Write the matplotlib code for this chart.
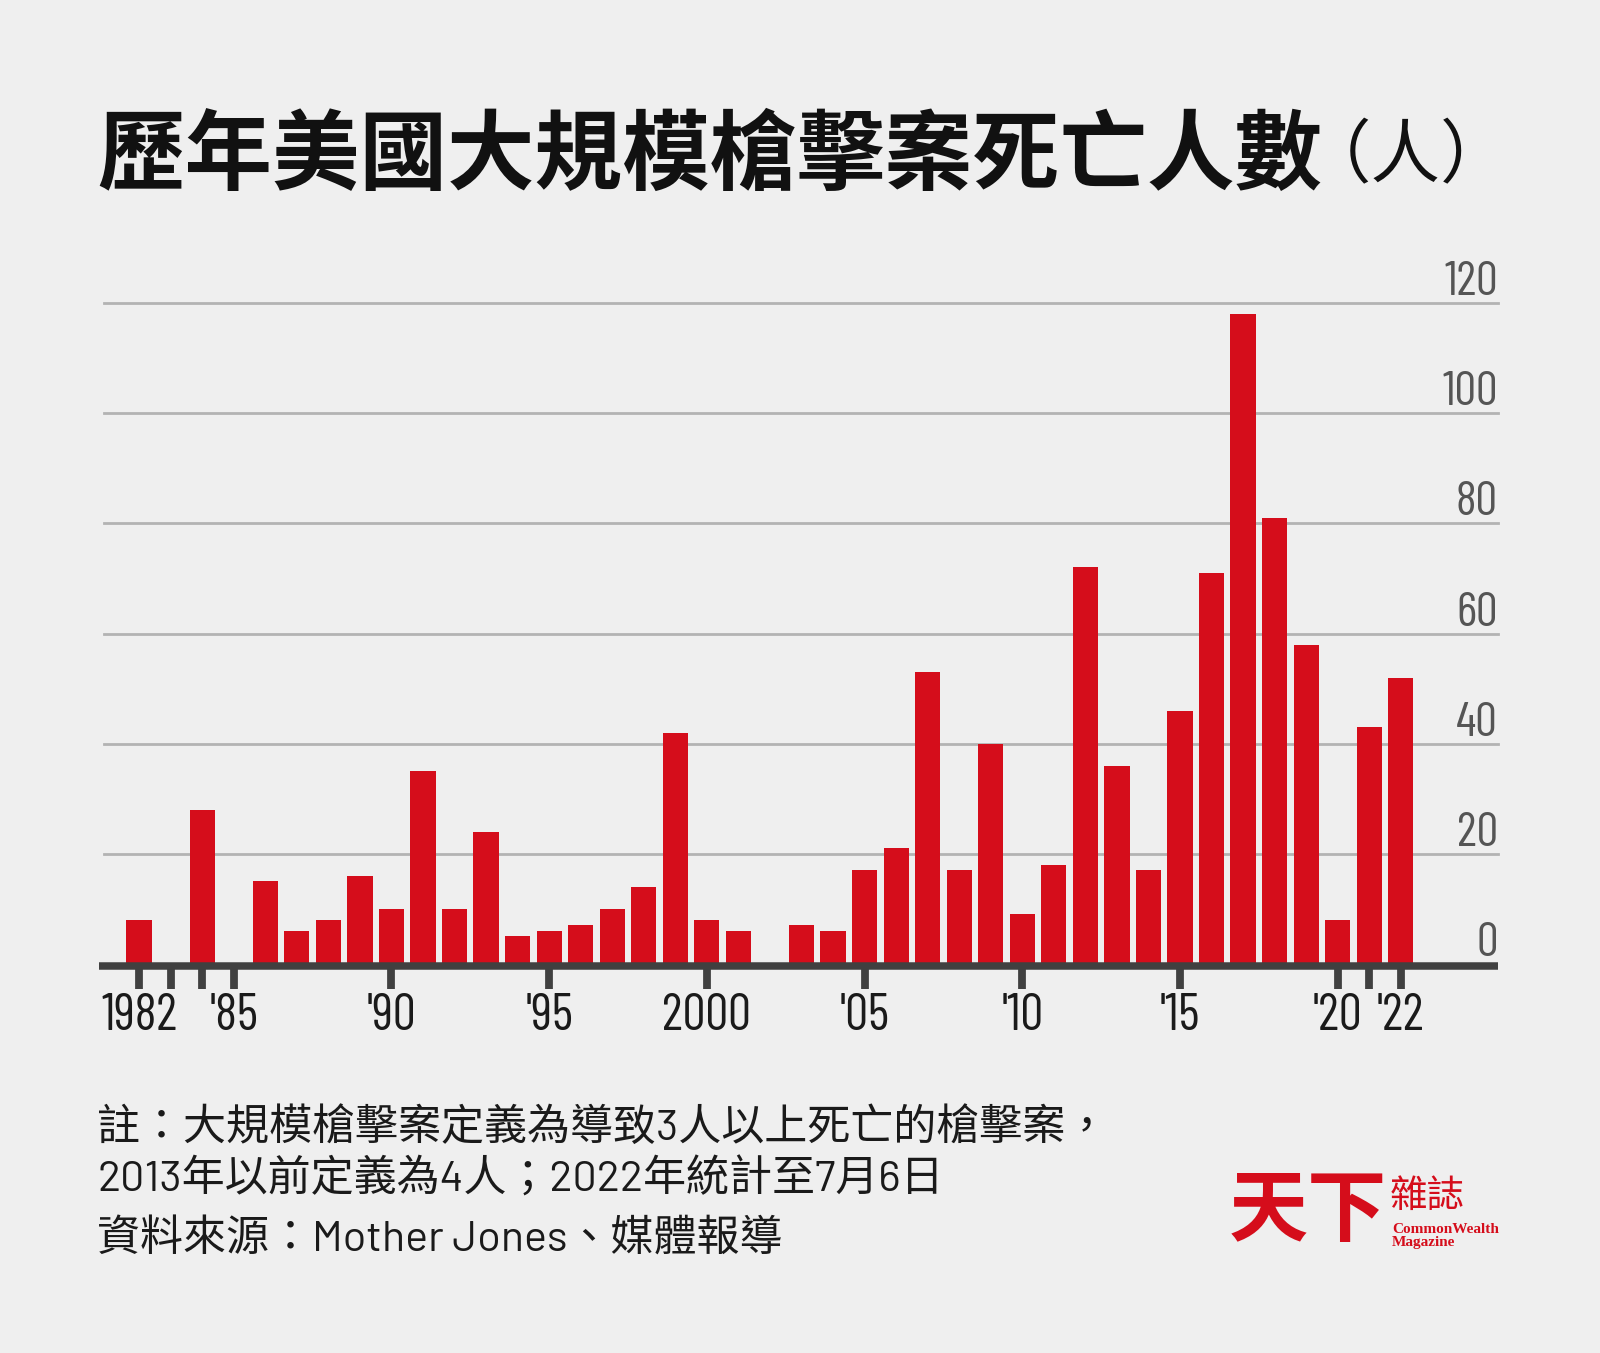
import matplotlib
matplotlib.use('Agg')
import matplotlib.pyplot as plt
from matplotlib import font_manager as fm
import matplotlib.transforms as mtransforms

# ---------------- data ----------------
years = list(range(1982, 2023))
deaths = [8, 0, 28, 0, 15, 6, 8, 16, 10, 35,
          10, 24, 5, 6, 7, 10, 14, 42, 8, 6,
          0, 7, 6, 17, 21, 53, 17, 40, 9, 18,
          72, 36, 17, 46, 71, 118, 81, 58, 8, 43,
          52]
tick_years = [1982, 1983, 1984, 1985, 1990, 1995, 2000, 2005, 2010, 2015, 2020, 2021, 2022]
tick_labels = ['1982', '', '', "'85", "'90", "'95", '2000', "'05", "'10", "'15", "'20", '', "'22"]
y_ticks = [0, 20, 40, 60, 80, 100, 120]
y_labels = ['0', '20', '40', '60', '80', '100', '120']
title = '歷年美國大規模槍擊案死亡人數'
title_unit = '（人）'
note_lines = ['註：大規模槍擊案定義為導致3人以上死亡的槍擊案，',
              '2013年以前定義為4人；2022年統計至7月6日',
              '資料來源：Mother Jones、媒體報導']
logo_main = '天下'
logo_sub = '雜誌'
logo_en1 = 'CommonWealth'
logo_en2 = 'Magazine'

# ---------------- fonts ----------------
ttf = fm.fontManager.ttflist
names = {f.name for f in ttf}
if 'Barlow Condensed' in names:
    NARROW, NSTRETCH = 'Barlow Condensed', 'condensed'
elif 'Liberation Sans Narrow' in names:
    NARROW, NSTRETCH = 'Liberation Sans Narrow', 'normal'
else:
    NARROW, NSTRETCH = 'Roboto', 'normal'
if 'Barlow' in names:
    LATIN = 'Barlow'
else:
    LATIN = 'Roboto'
CJK = 'Noto Sans CJK TC'
SERIF = 'Liberation Serif' if 'Liberation Serif' in names else 'DejaVu Serif'

# ---------------- figure ----------------
W, H = 1600, 1353
BG = '#efefef'
RED = '#d50d1b'
fig = plt.figure(figsize=(W / 100, H / 100), dpi=100)
fig.patch.set_facecolor(BG)


def fx(px):
    return px / W


def fy(py):
    return 1 - py / H


# axes geometry (pixels)
ax_left, ax_right = 104, 1498
y0_px, y120_px = 964, 303
x1982_px, x2022_px = 139.1, 1400.8
ppy = (x2022_px - x1982_px) / 40.0
xmin = 1982 - (x1982_px - ax_left) / ppy
xmax = 2022 + (ax_right - x2022_px) / ppy
upp = 120.0 / (y0_px - y120_px)  # data units per pixel

ax = fig.add_axes([fx(ax_left), fy(y0_px), (ax_right - ax_left) / W, (y0_px - y120_px) / H])
ax.set_facecolor('none')
ax.set_xlim(xmin, xmax)
ax.set_ylim(0, 120)
for s in ax.spines.values():
    s.set_visible(False)

# gridlines
for v in y_ticks[1:]:
    ax.axhline(v, color='#b3b3b3', lw=2.0, zorder=0, clip_on=False)

# bars
ax.bar(years, deaths, width=0.8, color=RED, zorder=2)

# baseline
x_base_left = 1982 - (x1982_px - 99) / ppy
ax.plot([x_base_left, xmax], [-1.5 * upp, -1.5 * upp], color='#404040', lw=5.4,
        solid_capstyle='butt', clip_on=False, zorder=3)

# x ticks
ax.set_xticks(tick_years)
ax.set_xticklabels(tick_labels, fontfamily=NARROW, fontstretch=NSTRETCH, fontweight='normal')
ax.tick_params(axis='x', direction='out', length=18, width=5.6, color='#404040',
               pad=3, labelsize=37, labelcolor='#1a1a1a')
ax.set_yticks([])

# y labels, right aligned just above gridlines
ytrans = mtransforms.offset_copy(ax.get_yaxis_transform(), fig=fig, x=0, y=8, units='dots')
for v, lab in zip(y_ticks, y_labels):
    ax.text(1.0, v, lab, transform=ytrans, ha='right', va='baseline',
            fontsize=35, color='#555555', fontfamily=NARROW, fontstretch=NSTRETCH,
            fontweight='normal')

# title
fig.text(fx(97), fy(183), title, fontsize=63, fontweight='bold', fontfamily=CJK,
         color='#111111', ha='left', va='baseline')
fig.text(fx(1406), fy(177), title_unit, fontsize=50, fontweight='light', fontfamily=CJK,
         color='#111111', ha='center', va='baseline')

# notes
note_base = [1140, 1192, 1252]
for line, yb in zip(note_lines, note_base):
    fig.text(fx(97), fy(yb), line, fontsize=31, fontfamily=[LATIN, CJK],
             fontweight='normal', color='#1a1a1a', ha='left', va='baseline')

# logo
fig.text(fx(1308), fy(1235), logo_main, fontsize=57, fontweight='heavy', fontfamily=CJK,
         color=RED, ha='center', va='baseline')
fig.text(fx(1390), fy(1207), logo_sub, fontsize=27, fontfamily=CJK,
         color=RED, ha='left', va='baseline')
fig.text(fx(1392), fy(1233), logo_en1, fontsize=11, fontweight='bold', fontfamily=SERIF,
         color=RED, ha='left', va='baseline')
fig.text(fx(1392), fy(1246), logo_en2, fontsize=11, fontweight='bold', fontfamily=SERIF,
         color=RED, ha='left', va='baseline')

fig.savefig('out.png', dpi=100, facecolor=BG)
